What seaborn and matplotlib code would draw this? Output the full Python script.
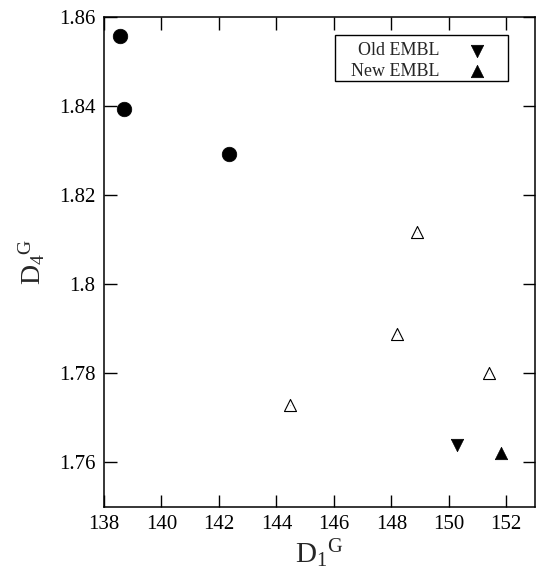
import matplotlib
matplotlib.use("Agg")
import matplotlib.pyplot as plt
import matplotlib.ticker as mticker
from matplotlib.patches import Rectangle
import seaborn as sns

# Measured points, grouped by marker style
circle_x = [138.55, 138.69, 142.36]
circle_y = [1.8557, 1.8393, 1.8293]

open_tri_x = [148.88, 148.21, 151.39, 144.47]
open_tri_y = [1.8118, 1.7889, 1.7801, 1.7728]

old_embl_x = [150.27]
old_embl_y = [1.7640]

new_embl_x = [151.80]
new_embl_y = [1.7622]

x_ticks = [138, 140, 142, 144, 146, 148, 150, 152]
y_ticks = [1.76, 1.78, 1.80, 1.82, 1.84, 1.86]

sns.set_theme(style="ticks")
plt.rcParams["font.family"] = ["Liberation Serif", "DejaVu Serif"]
plt.rcParams["mathtext.fontset"] = "custom"
plt.rcParams["mathtext.rm"] = "Liberation Serif"
plt.rcParams["mathtext.it"] = "Liberation Serif:italic"

fig = plt.figure(figsize=(5.37, 5.80), dpi=100)
ax = fig.add_axes([104 / 537, 1 - 507 / 580, (535 - 104) / 537, (507 - 17) / 580])

sns.scatterplot(x=circle_x, y=circle_y, ax=ax, marker="o", s=110,
                color="black", edgecolor="black", linewidth=0.5, legend=False)
sns.scatterplot(x=open_tri_x, y=open_tri_y, ax=ax, marker="^", s=75,
                facecolor="white", edgecolor="black", linewidth=0.8, legend=False)
sns.scatterplot(x=open_tri_x, y=open_tri_y, ax=ax, marker=".", s=2,
                color="black", linewidth=0, legend=False)
sns.scatterplot(x=old_embl_x, y=old_embl_y, ax=ax, marker="v", s=80,
                color="black", edgecolor="black", linewidth=0.5, label="Old EMBL")
sns.scatterplot(x=new_embl_x, y=new_embl_y, ax=ax, marker="^", s=80,
                color="black", edgecolor="black", linewidth=0.5, label="New EMBL")

ax.set_xlim(138, 153)
ax.set_ylim(1.75, 1.86)
ax.set_xticks(x_ticks)
ax.set_yticks(y_ticks)
ax.yaxis.set_major_formatter(mticker.FuncFormatter(lambda v, p: f"{v:g}"))
ax.tick_params(direction="in", length=9, width=1, top=True, right=True,
               labelsize=15, colors="black", pad=6)
for sp in ax.spines.values():
    sp.set_linewidth(1.1)
    sp.set_color("black")

ax.set_xlabel(r"$\mathrm{D_1{}^G}$", fontsize=21, labelpad=2)
ax.set_ylabel(r"$\mathrm{D_4{}^G}$", fontsize=20, labelpad=9)

# Legend entries without their own frame; a box is drawn around them separately
leg = ax.legend(loc="upper right", bbox_to_anchor=(0.886, 0.948), markerfirst=False,
                frameon=False, fontsize=13,
                handletextpad=1.55, borderpad=0.0, labelspacing=0.2,
                handlelength=1.0, borderaxespad=0)
leg._legend_box.align = "right"
ax.add_patch(Rectangle((0.536, 0.869), 0.937 - 0.536, 0.963 - 0.869,
                       transform=ax.transAxes, fill=False, edgecolor="black",
                       linewidth=1.0, zorder=5))

fig.savefig("out.png", dpi=100)
